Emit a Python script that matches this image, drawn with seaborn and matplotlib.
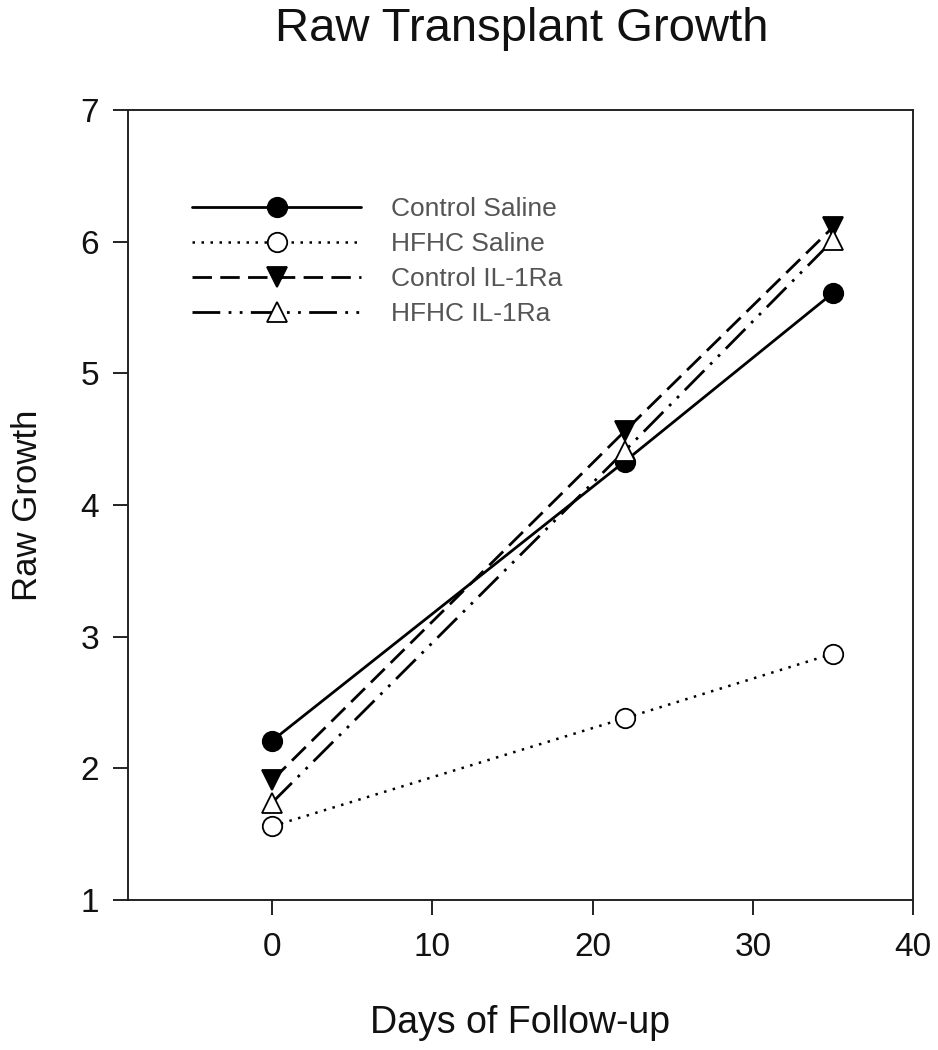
import matplotlib
matplotlib.use("Agg")
import matplotlib.pyplot as plt
import seaborn as sns
import pandas as pd

# ==============================
# DATA
# ==============================

days = [0, 22, 35]
control_saline = [2.21, 4.33, 5.61]
hfhc_saline = [1.56, 2.38, 2.87]
control_il1ra = [1.91, 4.56, 6.11]
hfhc_il1ra = [1.74, 4.41, 6.01]

series_names = ["Control Saline", "HFHC Saline", "Control IL-1Ra", "HFHC IL-1Ra"]
series_values = [control_saline, hfhc_saline, control_il1ra, hfhc_il1ra]

x_ticks = [0, 10, 20, 30, 40]
y_ticks = [1, 2, 3, 4, 5, 6, 7]

# ==============================
# STYLE
# ==============================

sns.set_theme(style="ticks")
plt.rcParams["font.family"] = ["Liberation Sans", "DejaVu Sans"]

styles = {
    "Control Saline": dict(marker="o", mfc="black", dashes=None, lw=2.0),
    "HFHC Saline": dict(marker="o", mfc="white", dashes=(1, 2.6), lw=1.8),
    "Control IL-1Ra": dict(marker="v", mfc="black", dashes=(7, 3), lw=2.0),
    "HFHC IL-1Ra": dict(marker="^", mfc="white", dashes=(10, 3, 1, 3, 1, 3), lw=2.0),
}

fig = plt.figure(figsize=(9.38, 10.5), dpi=100)
ax = fig.add_axes([0.1365, 0.1429, 0.8368, 0.7523])

for name, vals in zip(series_names, series_values):
    st = styles[name]
    df = pd.DataFrame({"day": days, "growth": vals})
    kw = dict(color="black", marker=st["marker"], markersize=14,
              markerfacecolor=st["mfc"], markeredgecolor="black",
              markeredgewidth=1.3, linewidth=st["lw"], label=name)
    sns.lineplot(data=df, x="day", y="growth", ax=ax, **kw)
    line = ax.get_lines()[-1]
    if st["dashes"] is not None:
        line.set_dashes(st["dashes"])

ax.set_xlim(-9, 40)
ax.set_ylim(1, 7)
ax.set_xticks(x_ticks)
ax.set_yticks(y_ticks)

for s in ax.spines.values():
    s.set_visible(True)
    s.set_linewidth(1.4)
    s.set_color("#222222")

ax.tick_params(direction="out", length=11, width=1.4, color="#222222",
               labelsize=24, labelcolor="#111111")
ax.tick_params(axis="x", pad=12)
ax.tick_params(axis="y", pad=10)

ax.set_xlabel("Days of Follow-up", fontsize=27, color="#111111", labelpad=30)
ax.set_ylabel("Raw Growth", fontsize=25, color="#111111", labelpad=26)

fig.text(0.556, 0.972, "Raw Transplant Growth", ha="center", va="center",
         fontsize=34, color="#111111")

leg = ax.legend(loc="upper left", bbox_to_anchor=(0.065, 0.906), frameon=False,
                fontsize=19, handlelength=6.4, handletextpad=1.15,
                labelspacing=0.41, borderpad=0)
for t in leg.get_texts():
    t.set_color("#555555")

fig.savefig("out.png", dpi=100)
plt.close(fig)
